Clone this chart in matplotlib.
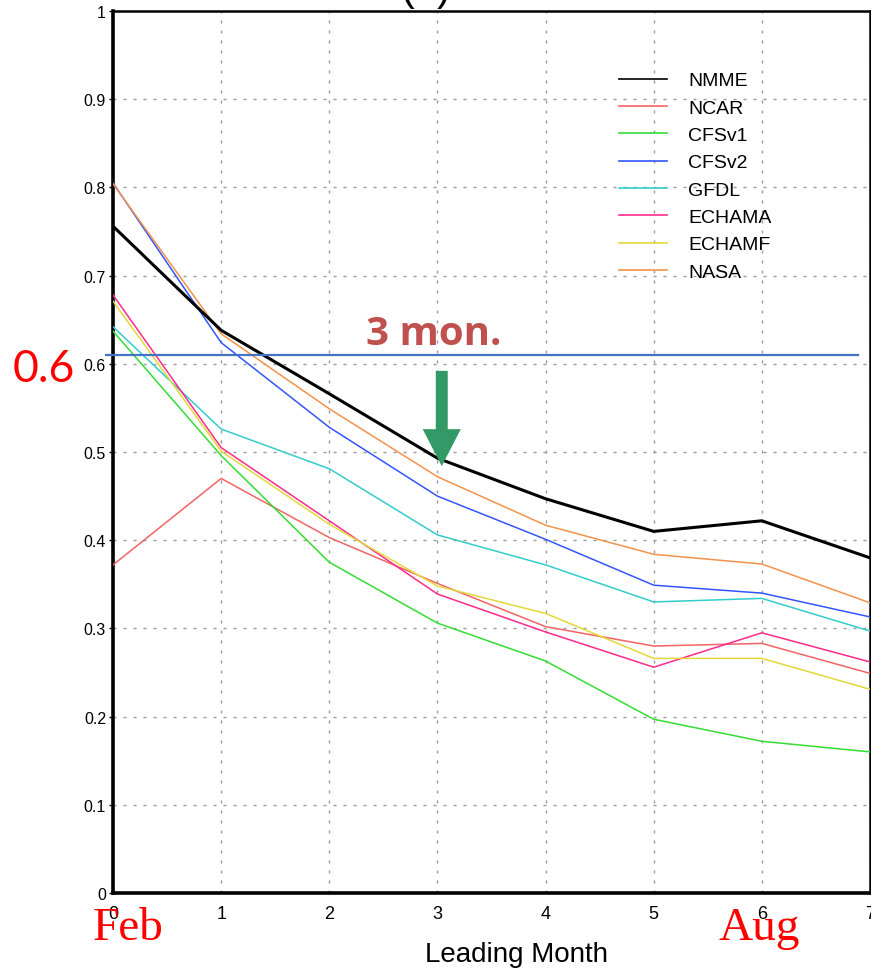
import matplotlib
matplotlib.use('Agg')
import matplotlib.pyplot as plt
from matplotlib.lines import Line2D

# lead months and skill per model
lead = [0, 1, 2, 3, 4, 5, 6, 7]
nmme = [0.756, 0.638, 0.566, 0.493, 0.447, 0.410, 0.422, 0.380]
ncar = [0.372, 0.470, 0.403, 0.351, 0.302, 0.280, 0.283, 0.249]
cfsv1 = [0.637, 0.496, 0.375, 0.306, 0.263, 0.197, 0.172, 0.160]
cfsv2 = [0.805, 0.624, 0.528, 0.450, 0.401, 0.349, 0.340, 0.313]
gfdl = [0.642, 0.526, 0.481, 0.406, 0.372, 0.330, 0.334, 0.297]
echama = [0.678, 0.505, 0.422, 0.339, 0.296, 0.256, 0.295, 0.262]
echamf = [0.671, 0.501, 0.418, 0.348, 0.317, 0.266, 0.266, 0.231]
nasa = [0.804, 0.634, 0.549, 0.472, 0.417, 0.384, 0.373, 0.329]

names = ['NMME', 'NCAR', 'CFSv1', 'CFSv2', 'GFDL', 'ECHAMA', 'ECHAMF', 'NASA']
series = [nmme, ncar, cfsv1, cfsv2, gfdl, echama, echamf, nasa]
colors = ['black', '#f26464', '#33dd33', '#3355ff', '#33cccc', '#ff2a8c', '#e3d83a', '#f3924a']

threshold = 0.61
arrow_x, arrow_top, arrow_tip = 3.04, 0.592, 0.484

thin = 'Liberation Sans'

fig = plt.figure(figsize=(8.71, 9.70), dpi=100)
ax = fig.add_axes([113/871, 76/970, 757/871, 882/970])

for name, vals, c in zip(names, series, colors):
    lw = 2.2 if name == 'NMME' else 1.1
    z = 5 if name == 'NMME' else 3
    ax.plot(lead, vals, color=c, lw=lw, zorder=z, label=name)

ax.set_xlim(0, 7)
ax.set_ylim(0, 1)
ax.set_xticks(lead)
ax.set_yticks([i / 10 for i in range(11)])
ax.set_yticklabels(['0'] + ['0.%d' % i for i in range(1, 10)] + ['1'])
ax.grid(True, color='#9a9a9a', lw=1, linestyle=(0, (2.2, 5)))
ax.tick_params(axis='y', length=3, width=1, pad=2, direction='out')
ax.tick_params(axis='x', length=0, pad=9)
for lab in ax.get_yticklabels():
    lab.set_family(thin)
    lab.set_fontsize(11.5)
for lab in ax.get_xticklabels():
    lab.set_family(thin)
    lab.set_fontsize(13)
for s in ['left', 'bottom']:
    ax.spines[s].set_linewidth(2.6)
for s in ['top', 'right']:
    ax.spines[s].set_linewidth(1.8)

# legend
handles = [Line2D([0], [0], color=c, lw=1.2) for c in colors]
ax.legend(handles, names, loc='upper left', bbox_to_anchor=(0.656, 0.942),
          frameon=False, prop={'family': thin, 'size': 14},
          handlelength=2.45, handletextpad=1.1, labelspacing=0.5, borderpad=0)

# 0.6 threshold line
ax.plot([-0.065, 6.89], [threshold, threshold], color='#4472c4', lw=1.6,
        clip_on=False, zorder=6)

# annotations
ax.annotate('', xy=(arrow_x, arrow_tip), xytext=(arrow_x, arrow_top),
            arrowprops=dict(arrowstyle='simple,head_width=27.4,head_length=26.6,tail_width=8.6',
                            mutation_scale=1, color='#339966', shrinkA=0, shrinkB=0, lw=0),
            zorder=7)
ax.text(2.97, 0.622, '3 mon.', color='#c0504d', fontsize=29, fontweight='bold',
        family='Open Sans', ha='center', va='baseline', zorder=7)

fig.text(13/871, (970-382)/970, '0.6', color='red', fontsize=32, family='Lato',
         ha='left', va='baseline')
fig.text(93/871, (970-940)/970, 'Feb', color='red', fontsize=34,
         family='Liberation Serif', ha='left', va='baseline')
fig.text(718/871, (970-940)/970, 'Aug', color='red', fontsize=34,
         family='Liberation Serif', ha='left', va='baseline')
fig.text(516/871, (970-962)/970, 'Leading Month', fontsize=20, family=thin,
         ha='center', va='baseline')
fig.text(426/871, 1.0, '(a)', fontsize=30, family=thin,
         ha='center', va='baseline')

fig.savefig('out.png', dpi=100)
